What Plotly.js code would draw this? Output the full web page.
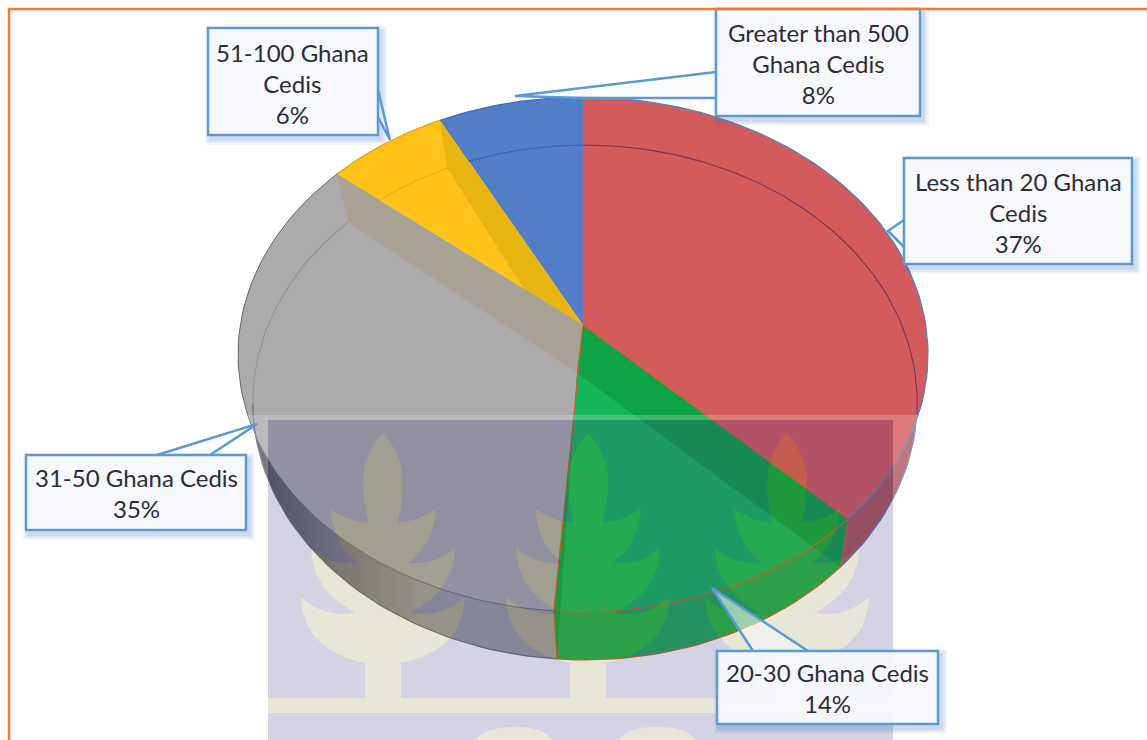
<!DOCTYPE html>
<html>
<head>
<meta charset="utf-8">
<script src="https://cdn.plot.ly/plotly-3.0.1.min.js"></script>
<style>html,body{margin:0;padding:0;background:#fff}#chart{width:1147px;height:740px}</style>
</head>
<body>
<div id="chart"></div>
<script>
// ---- data ----
const categories = ['Less than 20 Ghana Cedis', '20-30 Ghana Cedis', '31-50 Ghana Cedis', '51-100 Ghana Cedis', 'Greater than 500 Ghana Cedis'];
const shares = [37.4, 13.8, 34.8, 6.4, 7.6];
const labelLines = ['Less than 20 Ghana<br>Cedis', '20-30 Ghana Cedis', '31-50 Ghana Cedis', '51-100 Ghana<br>Cedis', 'Greater than 500<br>Ghana Cedis'];

// ---- styles ----
const faceColors = ['rgb(212,91,91)', 'rgb(22,183,92)', 'rgb(171,171,171)', 'rgb(254,194,25)', 'rgb(82,126,200)'];
const wallColors = ['rgb(176,86,90)', 'rgb(30,172,85)', 'rgb(150,150,152)', 'rgb(232,180,15)', 'rgb(70,110,180)'];
const edgeColors = ['rgb(84,130,195)', 'rgb(200,100,40)', 'rgb(110,110,110)', 'rgb(225,170,20)', 'rgb(70,110,185)'];
const rimColors  = ['rgb(125,55,85)', 'rgb(200,100,40)', 'rgb(150,150,150)', 'rgb(236,178,16)', 'rgb(66,100,175)'];

// ---- projection of the disc (perspective of a circle) ----
const K = 0.1146;
function project(cx, cy, a, b, deg) {
  const t = deg * Math.PI / 180, u = Math.sin(t), v = Math.cos(t), w = 1 + K * v;
  return [cx + a * u / w, cy - b * v / w];
}
const topPt = d => project(583, 325, 342.7, 254, d);
const botPt = d => project(585, 373, 330, 254, d);
function arc(fn, d0, d1) {
  const n = Math.max(2, Math.ceil(Math.abs(d1 - d0) / 1.5)), out = [];
  for (let i = 0; i <= n; i++) out.push(fn(d0 + (d1 - d0) * i / n));
  return out;
}
const total = shares.reduce((s, v) => s + v, 0);
let run = 0;
const bounds = shares.map(v => { const a = run; run += v; return [a / total * 360, run / total * 360]; });
const apexTop = [583, 325], apexBot = [577, 373];

const traces = [];
function poly(pts, fill, name, extra) {
  traces.push(Object.assign({
    type: 'scatter', mode: 'lines', x: pts.map(p => p[0]), y: pts.map(p => p[1]),
    fill: 'toself', fillcolor: fill, line: {width: 0, color: fill}, hoverinfo: 'skip', showlegend: false, name
  }, extra || {}));
}
function stroke(pts, color, width, name) {
  traces.push({type: 'scatter', mode: 'lines', x: pts.map(p => p[0]), y: pts.map(p => p[1]),
    line: {width, color}, hoverinfo: 'skip', showlegend: false, name});
}

// outer walls
bounds.forEach((b, i) => {
  const pts = arc(topPt, b[0], b[1]).concat(arc(botPt, b[1], b[0]));
  const extra = i === 2 ? {fillgradient: {type: 'horizontal', start: 245, stop: 420,
      colorscale: [[0, 'rgb(78,78,84)'], [0.5, 'rgb(122,122,128)'], [1, 'rgb(156,156,160)']]}} : {};
  poly(pts, wallColors[i], categories[i] + ' wall', extra);
});
// top faces
bounds.forEach((b, i) => {
  poly([apexTop].concat(arc(topPt, b[0], b[1])), faceColors[i], categories[i]);
});
// bottom rim seen through the disc
const rimSpans = [[bounds[0][0], 99], null, [263, bounds[2][1]], [bounds[3][0], bounds[3][1]], [bounds[4][0], bounds[4][1]]];
rimSpans.forEach((s, i) => { if (s) stroke(arc(botPt, s[0], s[1]), rimColors[i], 1.2, categories[i] + ' rim'); });
// inner cut faces seen through the disc
function cutFace(deg, fill, name) {
  poly([apexTop, topPt(deg), botPt(deg), apexBot], fill, name);
}
cutFace(bounds[3][1], 'rgb(232,180,15)', 'cut 51-100');
cutFace(bounds[2][1], 'rgb(168,163,148)', 'cut 31-50');
cutFace(bounds[0][1], 'rgb(15,163,72)', 'cut 20-30');
cutFace(bounds[1][1], 'rgb(15,163,72)', 'cut 20-30 b');
// edges
stroke([apexTop, topPt(bounds[0][1])], edgeColors[1], 1.2, 'green edge a');
stroke([apexTop, topPt(bounds[1][1]), botPt(bounds[1][1])], edgeColors[1], 1.2, 'green edge b');
stroke([topPt(bounds[0][1]), botPt(bounds[0][1])], edgeColors[1], 1, 'green edge c');
bounds.forEach((b, i) => stroke(arc(topPt, b[0], b[1]), edgeColors[i], i === 2 ? 1 : 1.3, categories[i] + ' edge'));
[0, 1, 2].forEach(i => {
  const s = i === 0 ? [99, bounds[0][1]] : i === 1 ? bounds[1] : [bounds[2][0], 263];
  stroke(arc(botPt, s[0], s[1]), edgeColors[i], 1.2, categories[i] + ' base');
});

// ---- faded crest behind the page ----
const treeX = [383, 588, 787];
const half = [[0,433],[20,455,20,483],[20,505,14,523],[40,520,53,508],[50,545,25,563],[55,565,72,547],[72,590,27,613],[60,618,82,597],[80,650,18,663]];
function tree(cx) {
  let p = `M${cx},${half[0][1]}`;
  for (let i = 1; i < half.length; i++) { const s = half[i]; p += `Q${cx+s[0]},${s[1]} ${cx+s[2]},${s[3]}`; }
  p += `L${cx+18},698L${cx-18},698L${cx-18},663`;
  for (let i = half.length - 1; i >= 1; i--) {
    const s = half[i], e = half[i-1], ex = e.length === 2 ? e[0] : e[2], ey = e.length === 2 ? e[1] : e[3];
    p += `Q${cx-s[0]},${s[1]} ${cx-ex},${ey}`;
  }
  return p + 'Z';
}
const rectPath = 'M268,420L893,420L893,740L268,740Z';
const creamPath = treeX.map(tree).join('') + 'M268,698L893,698L893,713L268,713Z' +
  'M476,740Q484,727 514,727Q544,727 552,740Z' + 'M619,740Q627,727 657,727Q687,727 695,740Z';
const shapes = [
  {type: 'path', layer: 'above', path: 'M185,415L950,415L950,740L185,740Z' + rectPath, fillcolor: 'rgba(255,255,255,0.2)', fillrule: 'evenodd', line: {width: 0}},
  {type: 'path', layer: 'above', path: rectPath + creamPath, fillcolor: 'rgba(58,58,134,0.224)', fillrule: 'evenodd', line: {width: 0}},
  {type: 'path', layer: 'above', path: creamPath, fillcolor: 'rgba(110,98,5,0.16)', fillrule: 'evenodd', line: {width: 0}}
];

// ---- callouts ----
const callouts = [
  {cat: 0, box: [904, 158, 1132, 264], tail: 'M904,220L888,231L904,247', ty: 212, tx: 1018},
  {cat: 1, box: [717, 651, 938, 724], tail: 'M808,651L712,588L753,651', ty: 688, tx: 827},
  {cat: 2, box: [26, 455, 246, 530], tail: 'M210,455L257,424L157,455', ty: 493, tx: 136},
  {cat: 3, box: [208, 28, 378, 135], tail: 'M378,90L390,140L378,117', ty: 83, tx: 292},
  {cat: 4, box: [716, 9, 920, 116], tail: 'M716,72L515,96L583,98L716,98', ty: 63, tx: 818}
];
function boxPath(c, dx, dy, grow) {
  const [x0, y0, x1, y1] = c.box;
  return `M${x0+dx-grow},${y0+dy-grow}L${x1+dx+grow},${y0+dy-grow}L${x1+dx+grow},${y1+dy+grow}L${x0+dx-grow},${y1+dy+grow}Z`;
}
callouts.forEach(c => {
  [[6, 0.07], [4, 0.1], [2, 0.13]].forEach(g => shapes.push({type: 'path', layer: 'above', path: boxPath(c, 3, 4, g[0]),
    fillcolor: `rgba(70,120,190,${g[1]})`, line: {width: 0}}));
});
callouts.forEach(c => {
  shapes.push({type: 'path', layer: 'above', path: c.tail + 'Z', fillcolor: 'rgba(248,250,253,0.55)', line: {width: 0}});
  shapes.push({type: 'path', layer: 'above', path: boxPath(c, 0, 0, 0), fillcolor: 'rgba(249,250,253,0.94)', line: {width: 2.5, color: 'rgb(91,155,213)'}});
  shapes.push({type: 'path', layer: 'above', path: c.tail, line: {width: 2.5, color: 'rgb(91,155,213)'}});
});
// thin frame of the original picture
shapes.push({type: 'path', layer: 'above', path: 'M9,740L9,9L1147,9', line: {width: 2.5, color: 'rgb(237,125,49)'}});

const annotations = callouts.map(c => ({
  xref: 'x', yref: 'y', x: c.tx, y: c.ty, xanchor: 'center', yanchor: 'middle', showarrow: false, align: 'center',
  text: `${labelLines[c.cat]}<br>${Math.round(shares[c.cat])}%`,
  font: {family: 'Lato, Carlito, sans-serif', size: 24, color: 'rgb(45,45,55)'}
}));

Plotly.newPlot('chart', traces, {
  width: 1147, height: 740, margin: {l: 0, r: 0, t: 0, b: 0, pad: 0},
  paper_bgcolor: '#fff', plot_bgcolor: '#fff', showlegend: false,
  xaxis: {range: [0, 1147], visible: false, fixedrange: true},
  yaxis: {range: [740, 0], visible: false, fixedrange: true},
  shapes, annotations
}, {displayModeBar: false, staticPlot: true});
</script>
</body>
</html>
